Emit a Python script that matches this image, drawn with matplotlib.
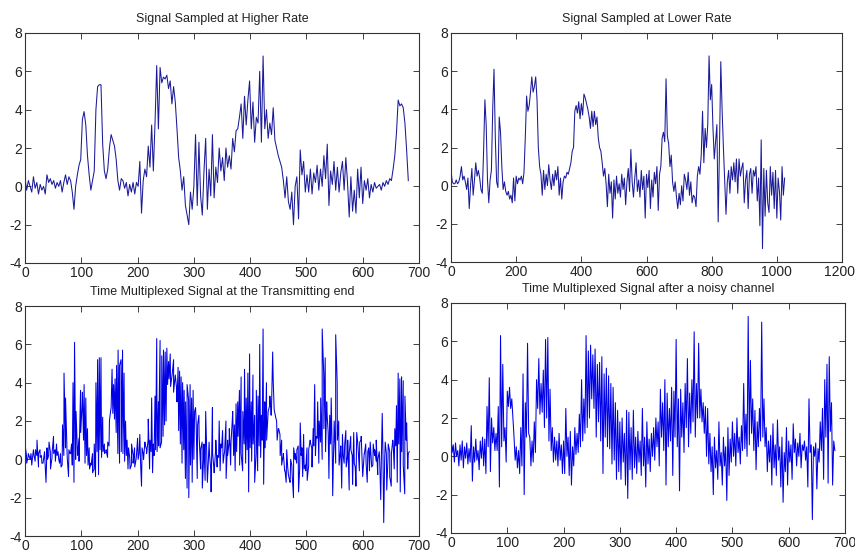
import numpy as np
import matplotlib
matplotlib.use("Agg")
import matplotlib.pyplot as plt
import matplotlib.transforms as mtransforms

plt.rcParams['font.family'] = ['Liberation Sans Narrow', 'Liberation Sans', 'DejaVu Sans']
plt.rcParams['axes.unicode_minus'] = False

# ---- Signal 1 (higher rate), one value every 3 samples, x = 0..681
sig1_step = 3
sig1 = [
    0.4, -0.2, 0.3, 0.0, -0.3, 0.5, -0.1, 0.2, -0.4, 0.1,
    -0.2, 0.0, -0.4, 0.6, 0.2, 0.4, 0.1, 0.3, -0.1, 0.2,
    0.0, 0.3, -0.3, 0.2, 0.6, 0.1, 0.5, 0.3, -0.3, -1.2,
    0.0, 0.6, 1.1, 1.4, 3.5, 3.9, 3.2, 1.6, 0.6, -0.2,
    0.3, 0.8, 4.0, 5.2, 5.3, 5.3, 2.2, 0.8, 0.4, 0.9,
    2.0, 2.7, 2.4, 2.1, 1.4, 0.3, -0.2, 0.4, 0.3, -0.1,
    0.2, -0.5, 0.1, -0.3, 0.2, -0.4, 0.2, 0.0, 1.3, -1.4,
    0.3, 0.9, 0.5, 2.1, 1.0, 3.2, 0.8, 3.3, 6.3, 3.0,
    6.2, 5.4, 5.7, 5.6, 5.8, 5.1, 5.5, 4.3, 5.2, 4.4,
    3.0, 1.5, 0.8, -0.2, 0.5, -1.0, -1.5, -2.0, -0.3, -1.2,
    0.0, 2.7, -1.0, 2.3, -0.5, -1.5, 0.8, 2.5, -1.2, 0.9,
    -0.5, 2.7, -0.6, 1.0, 0.2, 2.0, 0.8, 1.5, 0.3, 2.0,
    1.0, 1.6, 0.9, 2.5, 1.8, 2.9, 3.0, 3.6, 4.3, 2.5,
    4.7, 3.2, 4.5, 5.5, 3.0, 4.4, 2.3, 3.6, 3.3, 6.0,
    2.3, 6.8, 3.0, 4.0, 2.5, 3.3, 2.7, 4.1, 2.4, 2.0,
    1.6, 1.3, 1.0, 0.3, -0.6, 0.5, -0.8, -1.2, -0.3, -2.0,
    0.0, 0.5, -1.7, 1.9, 0.6, 1.3, -0.3, 0.6, -0.3, 0.9,
    -0.4, 0.7, 0.2, 1.1, -0.2, 0.9, 0.0, 1.6, 0.4, 2.2,
    -1.0, 0.8, 0.1, 1.3, -0.2, 1.0, -0.3, 0.7, 1.3, -0.2,
    1.5, 0.2, -1.6, 0.5, -1.3, -0.2, -1.4, 0.9, -0.6, 1.0,
    -0.9, 0.3, -0.2, 0.4, -0.6, 0.1, -0.3, 0.2, -0.1, 0.0,
    0.1, -0.2, 0.2, 0.0, 0.3, 0.1, 0.4, 0.3, 0.9, 1.6,
    2.8, 4.5, 4.2, 4.3, 4.1, 3.3, 1.9, 0.3,
]

# ---- Signal 2 (lower rate), one value every 4 samples, x = 0..1024
sig2_step = 4
sig2 = [
    0.8, 0.2, 0.1, 0.1, 0.3, 0.1, 0.2, 0.5, 1.0, 0.3,
    0.5, 0.2, -0.2, 0.4, -1.2, 0.0, 0.9, -0.5, 0.3, 1.2,
    0.5, 0.8, 0.4, -0.2, -0.4, 1.8, 4.5, 3.2, 0.3, -0.9,
    0.3, 0.8, 4.0, 6.1, 2.5, 0.2, -0.1, 3.6, 2.8, 1.0,
    -0.2, 0.2, -0.3, -0.5, -0.3, -0.7, -0.5, -0.9, 0.4, -0.8,
    0.5, 0.1, 0.4, 0.3, 0.5, 0.1, 0.7, 2.5, 4.7, 3.9,
    4.2, 4.9, 5.7, 4.9, 5.2, 5.7, 4.5, 2.0, 1.0, 0.6,
    -0.5, 0.8, -0.2, 0.6, 0.0, 1.1, 0.3, -0.2, 0.6, 0.0,
    0.8, 0.3, 1.0, -0.5, 0.4, -0.7, 0.2, 0.5, 0.4, 0.7,
    0.6, 0.9, 1.2, 1.8, 2.0, 3.9, 4.2, 3.8, 4.4, 3.5,
    4.3, 3.7, 4.8, 4.6, 4.3, 4.0, 3.6, 3.0, 3.9, 3.1,
    3.9, 3.2, 3.6, 2.5, 2.0, 1.8, 1.2, 0.5, 0.9, 0.1,
    -1.1, 0.6, -0.4, 0.2, -1.7, 0.3, -0.7, 0.5, -0.4, 0.1,
    -0.6, 0.6, -0.2, 0.4, -1.0, 0.2, 0.9, -0.3, 1.9, 0.2,
    -0.6, 0.4, 1.2, -0.3, 0.3, -0.6, 0.8, -0.2, 0.5, -1.7,
    0.6, -0.1, 0.8, -1.2, 0.3, -0.6, 0.7, 0.1, 1.0, -1.3,
    0.6, 1.0, 2.5, 2.8, 2.3, 5.6, 2.6, 2.2, 1.0, 1.6,
    0.2, -0.3, 0.2, -0.6, -1.2, -0.4, -1.0, 0.0, -0.8, 0.6,
    0.3, -0.2, 0.7, -0.5, 0.2, -0.9, -0.5, -0.6, -1.1, 0.5,
    1.0, 0.6, 1.6, 3.9, 1.2, 3.0, 2.0, 3.2, 6.8, 4.5,
    5.3, 3.0, 1.4, 2.3, 3.2, -1.9, 2.0, 6.5, 4.0, 2.0,
    0.3, -1.5, 0.2, 0.8, -0.4, 1.0, 0.3, 1.2, 0.2, 1.4,
    -0.4, 1.4, 0.5, 0.9, 1.2, -0.9, 0.3, 0.8, -1.2, 0.6,
    0.9, -0.4, 0.8, 0.5, 1.0, -0.8, 0.4, -2.1, 2.4, -3.3,
    0.9, -1.6, 0.8, -0.9, -1.4, 1.0, -0.5, 0.7, -1.2, 0.8,
    -1.7, 0.4, -0.3, -1.8, 1.0, -0.5, 0.4,
]

# time compression of signal 2 when multiplexed
mux_ratio = 1.5

# ---- Received (noisy channel) signal: upper / lower swing every 4 samples
rx_step = 4
rx_hi = [
    1.0, 0.6, 0.7, 0.3, 0.6, 0.8, 0.5, 0.7, 0.4, 1.6,
    0.5, 0.9, 0.3, 0.8, 1.0, 0.9, 2.6, 4.1, 2.0, 1.5,
    1.2, 2.6, 6.3, 4.8, 1.5, 3.4, 3.6, 3.0, 1.0, 0.5,
    0.3, 1.5, 4.3, 2.8, 5.9, 1.0, 0.8, 1.8, 4.0, 5.1,
    3.8, 4.5, 6.1, 6.2, 3.5, 1.5, 1.0, 0.8, 1.2, 0.6,
    0.8, 2.5, 1.0, 1.3, 0.5, 1.5, 1.2, 2.2, 4.0, 3.0,
    6.3, 5.5, 5.8, 5.3, 5.6, 4.8, 4.9, 5.2, 4.3, 4.6,
    4.2, 3.8, 3.6, 2.8, 2.4, 1.8, 2.0, 1.2, 2.4, 2.3,
    1.5, 2.4, 1.0, 1.3, 0.8, 2.5, 1.0, 1.8, 0.9, 1.2,
    1.5, 2.0, 1.8, 3.5, 2.8, 4.0, 3.3, 2.5, 3.6, 3.4,
    6.1, 3.0, 3.5, 2.8, 3.8, 5.1, 3.3, 4.0, 6.5, 3.8,
    5.9, 3.5, 2.8, 2.6, 2.5, 1.2, 0.5, 1.0, 0.3, 1.8,
    0.2, 1.0, 0.5, 1.5, 0.9, 1.8, 1.2, 2.0, 1.0, 1.6,
    3.8, 2.2, 7.3, 5.0, 3.0, 2.4, 1.8, 2.5, 7.0, 3.0,
    1.5, 0.8, 1.1, 1.7, 0.6, 1.9, 0.5, 1.0, 0.2, 1.5,
    0.8, 0.6, 1.7, 0.9, 0.7, 1.2, 0.6, 0.8, 0.5, 3.0,
    0.6, 0.5, 0.7, 0.4, 1.8, 2.5, 4.0, 4.8, 5.2, 2.8,
    0.8,
]
rx_lo = [
    0.2, -0.3, 0.0, -0.5, -0.2, -0.6, -0.1, -0.4, -0.3, -1.3,
    -0.3, -0.2, -0.7, -0.1, -0.5, -0.9, 0.5, -0.8, 0.7, 0.3,
    0.3, -1.6, 0.5, 0.8, -0.3, 2.6, 2.5, 2.0, -0.2, -0.6,
    -0.9, -0.5, -2.0, 1.0, 1.2, -0.5, -0.3, 0.2, 2.5, 2.2,
    2.3, 1.5, 2.0, 0.8, 0.3, -0.3, -0.2, -0.5, -0.2, -0.9,
    -0.9, 0.0, -1.0, -1.5, -0.5, 0.1, 0.2, 0.5, 0.8, 1.2,
    1.5, 2.0, 3.0, 2.5, 1.0, 1.8, 0.8, -0.9, 1.0, 0.5,
    0.4, -0.4, -0.2, -1.2, -0.8, -1.2, -0.3, -1.5, -2.2, -0.7,
    -1.2, -0.6, -0.9, -0.3, -1.0, -0.5, -1.6, -0.4, -0.8, 0.0,
    -0.2, 0.5, -0.5, 1.0, 0.3, -1.5, 0.5, 0.8, -1.0, 1.0,
    0.5, -1.8, 1.0, 0.2, 1.5, 0.5, 1.2, 1.8, 1.0, 2.0,
    2.0, 1.8, 1.2, 0.0, -0.4, -0.8, -2.0, -0.6, -1.2, -0.5,
    -1.5, -0.5, -2.3, -1.0, -0.3, 0.0, -0.5, 0.2, -0.4, 0.3,
    0.4, 0.0, 0.6, 1.2, 0.3, -0.7, 0.5, 0.8, 1.0, 0.5,
    -0.8, -0.3, -1.5, -0.6, -1.0, -0.2, -1.6, -2.4, -0.8, -1.5,
    -0.3, -1.2, 0.2, -0.5, 0.0, -0.6, 0.3, -0.2, -1.6, 0.2,
    -3.3, 0.0, -1.7, -0.3, 0.3, -1.2, 1.0, -1.4, 1.3, -1.5,
    0.3,
]

titles = ["Signal Sampled at Higher Rate", "Signal Sampled at Lower Rate",
          "Time Multiplexed Signal at the Transmitting end",
          "Time Multiplexed Signal after a noisy channel"]

# ---- derived x positions
x1 = np.arange(len(sig1)) * sig1_step
x2 = np.arange(len(sig2)) * sig2_step
s1 = np.array(sig1)
s2 = np.array(sig2)

# multiplexed: merge both channels on a common time axis
xm = np.concatenate([x1, x2 / mux_ratio])
ym = np.concatenate([s1, s2])
order = np.argsort(xm, kind="stable")
xm, ym = xm[order], ym[order]

# received: alternate the upper / lower swings
xr = np.empty(2 * len(rx_hi))
yr = np.empty(2 * len(rx_hi))
xr[0::2] = np.arange(len(rx_hi)) * rx_step
xr[1::2] = np.arange(len(rx_lo)) * rx_step + rx_step / 2
yr[0::2] = rx_hi
yr[1::2] = rx_lo

W, H = 855, 552
fig = plt.figure(figsize=(W / 100, H / 100), dpi=100)

def px_axes(l, t, r, b):
    return fig.add_axes([l / W, 1 - b / H, (r - l) / W, (b - t) / H])

axs = [px_axes(25, 33, 419, 263), px_axes(451, 33, 842, 262),
       px_axes(25, 306, 419, 536), px_axes(451, 303, 845, 533)]

line_top = '#1a1a9a'
line_bot = '#0000e6'
axs[0].plot(x1, s1, color=line_top, lw=0.75)
axs[1].plot(x2, s2, color=line_top, lw=0.75)
axs[2].plot(xm, ym, color=line_bot, lw=0.75)
axs[3].plot(xr, yr, color=line_bot, lw=0.75)

xlims = [(0, 700), (0, 1200), (0, 700), (0, 700)]
xsteps = [100, 200, 100, 100]
for ax, t, xl, st in zip(axs, titles, xlims, xsteps):
    ax.set_xlim(*xl)
    ax.set_ylim(-4, 8)
    ax.set_xticks(np.arange(xl[0], xl[1] + 1, st))
    ax.set_yticks(np.arange(-4, 9, 2))
    ax.tick_params(direction='in', top=True, right=True, length=4,
                   width=0.6, labelsize=10, pad=2, colors='#222222')
    for sp in ax.spines.values():
        sp.set_linewidth(0.8)
        sp.set_color('#333333')
    ax.set_title(t, fontsize=9, pad=8, color='#222222')

# keep the last tick label of the lower-rate panel inside the figure
last = axs[1].get_xticklabels()[-1]
last.set_transform(last.get_transform() +
                   mtransforms.ScaledTranslation(-3 / 100, 0, fig.dpi_scale_trans))

fig.savefig("out.png", dpi=100)
